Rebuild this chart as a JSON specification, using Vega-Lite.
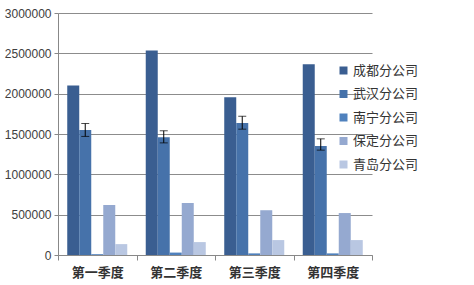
{
  "$schema": "https://vega.github.io/schema/vega-lite/v6.json",
  "autosize": "none",
  "width": 314,
  "height": 242,
  "padding": {"left": 58, "top": 13, "right": 102, "bottom": 30},
  "background": "white",
  "config": {"view": {"stroke": null}, "font": "Noto Sans CJK SC"},
  "datasets": {
    "sales": [
      {"quarter": "第一季度", "company": "成都分公司", "value": 2100000},
      {"quarter": "第一季度", "company": "武汉分公司", "value": 1550000},
      {"quarter": "第一季度", "company": "南宁分公司", "value": 10000},
      {"quarter": "第一季度", "company": "保定分公司", "value": 620000},
      {"quarter": "第一季度", "company": "青岛分公司", "value": 135000},
      {"quarter": "第二季度", "company": "成都分公司", "value": 2535000},
      {"quarter": "第二季度", "company": "武汉分公司", "value": 1460000},
      {"quarter": "第二季度", "company": "南宁分公司", "value": 30000},
      {"quarter": "第二季度", "company": "保定分公司", "value": 645000},
      {"quarter": "第二季度", "company": "青岛分公司", "value": 160000},
      {"quarter": "第三季度", "company": "成都分公司", "value": 1955000},
      {"quarter": "第三季度", "company": "武汉分公司", "value": 1635000},
      {"quarter": "第三季度", "company": "南宁分公司", "value": 20000},
      {"quarter": "第三季度", "company": "保定分公司", "value": 555000},
      {"quarter": "第三季度", "company": "青岛分公司", "value": 185000},
      {"quarter": "第四季度", "company": "成都分公司", "value": 2365000},
      {"quarter": "第四季度", "company": "武汉分公司", "value": 1350000},
      {"quarter": "第四季度", "company": "南宁分公司", "value": 20000},
      {"quarter": "第四季度", "company": "保定分公司", "value": 520000},
      {"quarter": "第四季度", "company": "青岛分公司", "value": 185000}
    ],
    "errors": [
      {"quarter": "第一季度", "company": "武汉分公司", "low": 1470000, "high": 1630000},
      {"quarter": "第二季度", "company": "武汉分公司", "low": 1390000, "high": 1540000},
      {"quarter": "第三季度", "company": "武汉分公司", "low": 1560000, "high": 1720000},
      {"quarter": "第四季度", "company": "武汉分公司", "low": 1300000, "high": 1440000}
    ]
  },
  "layer": [
    {
      "data": {"name": "sales"},
      "mark": {"type": "bar"},
      "encoding": {
        "x": {
          "field": "quarter", "type": "nominal", "sort": null,
          "scale": {"paddingInner": 0, "paddingOuter": 0},
          "axis": {
            "title": null, "labelAngle": 0, "tickBand": "extent",
            "labelFontSize": 13, "labelFontWeight": "bold", "labelColor": "#333333",
            "labelPadding": 6, "domainColor": "#888888", "tickColor": "#888888", "tickSize": 5,
            "labelFont": "Noto Sans CJK SC"
          }
        },
        "xOffset": {
          "field": "company", "type": "nominal",
          "scale": {"domain": ["成都分公司", "武汉分公司", "南宁分公司", "保定分公司", "青岛分公司"], "paddingInner": 0, "paddingOuter": 0.77}
        },
        "y": {
          "field": "value", "type": "quantitative",
          "scale": {"domain": [0, 3000000], "nice": false},
          "axis": {
            "title": null, "values": [0, 500000, 1000000, 1500000, 2000000, 2500000, 3000000],
            "format": "d", "labelFontSize": 12, "labelColor": "#404040", "labelFont": "Liberation Sans",
            "gridColor": "#8c8c8c", "domainColor": "#888888", "tickColor": "#888888",
            "tickSize": 4, "labelPadding": 3
          }
        },
        "color": {
          "field": "company", "type": "nominal",
          "scale": {
            "domain": ["成都分公司", "武汉分公司", "南宁分公司", "保定分公司", "青岛分公司"],
            "range": ["#3a5e91", "#4672aa", "#4f81bd", "#95a9d0", "#b9c7e2"]
          },
          "legend": {
            "title": null, "orient": "none", "legendX": 279, "legendY": 51,
            "symbolType": "square", "symbolSize": 64, "symbolStrokeWidth": 0,
            "labelFontSize": 13, "labelColor": "#333333", "rowPadding": 9.5, "labelOffset": 3,
            "labelFont": "Noto Sans CJK SC"
          }
        }
      }
    },
    {
      "data": {"name": "errors"},
      "mark": {"type": "rule", "color": "black", "strokeWidth": 1},
      "encoding": {
        "x": {"field": "quarter", "type": "nominal", "sort": null},
        "xOffset": {"field": "company", "type": "nominal"},
        "y": {"field": "low", "type": "quantitative"},
        "y2": {"field": "high"}
      }
    },
    {
      "data": {"name": "errors"},
      "mark": {"type": "tick", "color": "black", "thickness": 1, "size": 8},
      "encoding": {
        "x": {"field": "quarter", "type": "nominal", "sort": null},
        "xOffset": {"field": "company", "type": "nominal"},
        "y": {"field": "low", "type": "quantitative"}
      }
    },
    {
      "data": {"name": "errors"},
      "mark": {"type": "tick", "color": "black", "thickness": 1, "size": 8},
      "encoding": {
        "x": {"field": "quarter", "type": "nominal", "sort": null},
        "xOffset": {"field": "company", "type": "nominal"},
        "y": {"field": "high", "type": "quantitative"}
      }
    }
  ]
}
